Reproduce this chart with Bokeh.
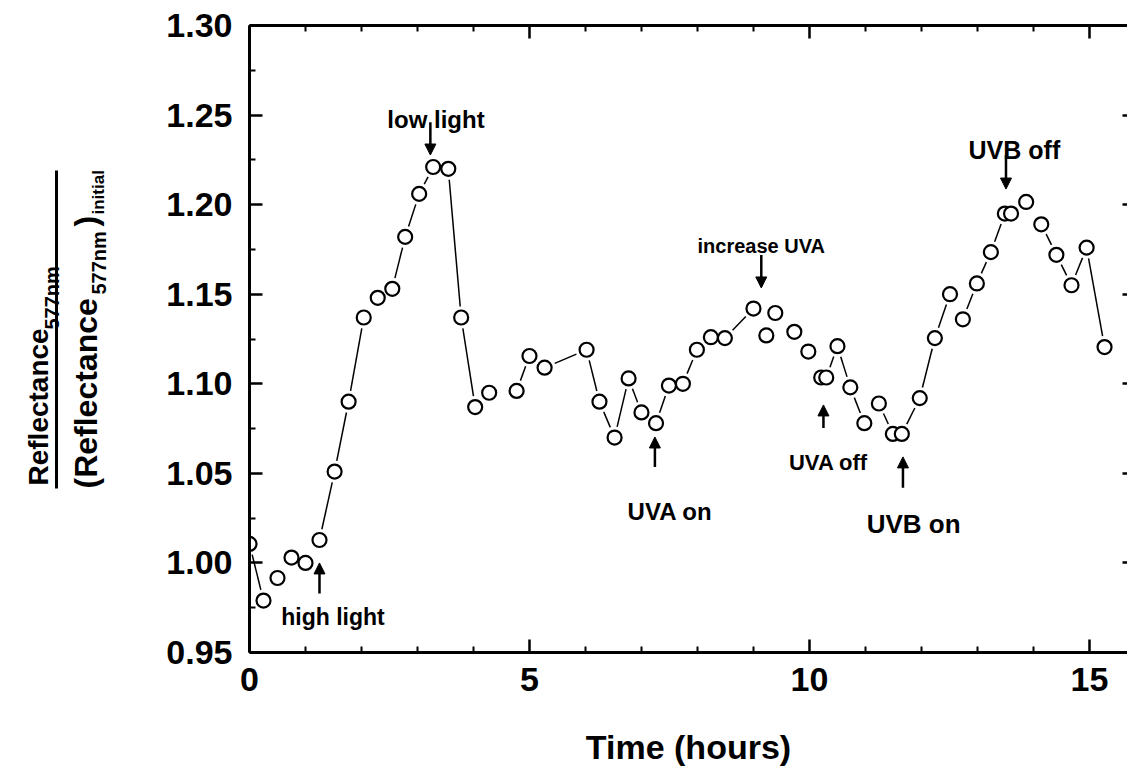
import math
from bokeh.plotting import figure
from bokeh.layouts import row
from bokeh.models import (Range1d, LinearAxis, FixedTicker, PrintfTickFormatter,
                          Label, Arrow, NormalHead, ColumnDataSource)
from bokeh.core.properties import value
from bokeh.embed import file_html
from bokeh.resources import INLINE

# ---------------- data ----------------
time_hours = [0.0, 0.25, 0.5, 0.75, 1.0, 1.25, 1.52, 1.77, 2.04, 2.29,
              2.55, 2.78, 3.03, 3.28, 3.55, 3.78, 4.03, 4.28, 4.77, 5.0,
              5.27, 6.02, 6.25, 6.52, 6.77, 7.0, 7.26, 7.49, 7.74, 7.99,
              8.24, 8.49, 9.0, 9.23, 9.39, 9.73, 9.98, 10.21, 10.30, 10.5,
              10.73, 10.98, 11.24, 11.49, 11.65, 11.97, 12.24, 12.51, 12.74, 12.99,
              13.24, 13.49, 13.60, 13.87, 14.14, 14.41, 14.68, 14.95, 15.27]
reflectance_ratio = [1.0106, 0.979, 0.9916, 1.003, 1.000, 1.0128, 1.051, 1.090, 1.137, 1.148,
                     1.153, 1.182, 1.206, 1.221, 1.220, 1.137, 1.087, 1.095, 1.096, 1.1155,
                     1.109, 1.119, 1.090, 1.070, 1.103, 1.084, 1.078, 1.099, 1.100, 1.119,
                     1.126, 1.1255, 1.142, 1.127, 1.1395, 1.129, 1.118, 1.1035, 1.1035, 1.121,
                     1.098, 1.078, 1.089, 1.072, 1.072, 1.092, 1.1255, 1.150, 1.136, 1.156,
                     1.1735, 1.195, 1.195, 1.2015, 1.189, 1.172, 1.155, 1.176, 1.1205]

x_major_ticks = [0, 5, 10, 15]
x_minor_ticks = [1, 2, 3, 4, 6, 7, 8, 9, 11, 12, 13, 14]
y_major_ticks = [0.95, 1.00, 1.05, 1.10, 1.15, 1.20, 1.25, 1.30]
y_minor_ticks = [0.975, 1.025, 1.075, 1.125, 1.175, 1.225, 1.275]

x_title = "Time (hours)"

# event annotations
event_labels = ["high light", "low light", "UVA on", "increase UVA", "UVA off", "UVB on", "UVB off"]
event_times = [1.25, 3.23, 7.24, 9.14, 10.25, 11.67, 13.51]
arrow_tail = [0.983, 1.246, 1.0536, 1.1719, 1.0753, 1.0419, 1.2277]
arrow_head = [1.000, 1.2277, 1.0703, 1.1535, 1.0882, 1.0592, 1.2087]
label_x = [1.49, 3.33, 7.51, 9.14, 10.34, 11.86, 13.66]
label_y = [0.9699, 1.2478, 1.0285, 1.1769, 1.0558, 1.0218, 1.2305]
label_size = [23, 24, 24, 20, 22, 26, 25]

# y-axis title (a fraction) pieces
frac_text = ["Reflectance", "577nm", "(Reflectance", "577nm", ")", "initial"]

FONT = "Liberation Sans"
TOTAL_W, H = 1127, 770
LW = 110                       # width of the strip holding the y title
MW = TOTAL_W - LW
BL, BR, BT = 249 - LW, 0, 25
BB = H - 652
X0, X1 = 0.0, 15.68
Y0, Y1 = 0.95, 1.30

# ---------------- left strip with the fraction title ----------------
# its frame spans the same rows as the main frame; coordinates are strip pixels
left = figure(width=LW, height=H, x_range=Range1d(0, LW), y_range=Range1d(H - 652, H - 25),
              output_backend="svg", toolbar_location=None,
              min_border_left=0, min_border_right=0, min_border_top=BT, min_border_bottom=BB,
              x_axis_location=None, y_axis_location=None)
left.outline_line_color = None
left.background_fill_color = "white"
left.border_fill_color = "white"
for g in left.grid:
    g.visible = False

frac_bx = [38, 51, 85, 98, 85, 98]
frac_sy = [485, 329, 488, 294, 226, 214]
frac_fs = ["28px", "20px", "32px", "20px", "32px", "17px"]
src = ColumnDataSource(dict(x=frac_bx, y=[H - v for v in frac_sy], text=frac_text, fs=frac_fs))
left.text(x="x", y="y", text="text", source=src, angle=math.pi / 2,
          text_align="left", text_baseline="alphabetic",
          text_font=value(FONT), text_font_style="bold", text_font_size="fs",
          text_color="black")
left.segment(x0=[56], y0=[H - 488], x1=[56], y1=[H - 170], line_color="black", line_width=3)

# ---------------- main plot ----------------
p = figure(width=MW, height=H, x_range=Range1d(X0, X1), y_range=Range1d(Y0, Y1),
           output_backend="svg", toolbar_location=None,
           min_border_left=BL, min_border_right=BR, min_border_top=BT, min_border_bottom=BB)
p.grid.visible = False
p.outline_line_color = None
p.background_fill_color = "white"
p.border_fill_color = "white"


def style_axis(ax, labels=True, line=True, major_in=13, minor_in=6):
    ax.axis_line_width = 3
    ax.axis_line_color = "black" if line else None
    ax.major_tick_in = major_in
    ax.major_tick_out = 0
    ax.minor_tick_in = minor_in
    ax.minor_tick_out = 0
    ax.major_tick_line_width = 2.5
    ax.minor_tick_line_width = 2
    ax.major_tick_line_color = "black"
    ax.minor_tick_line_color = "black"
    ax.major_label_text_font = FONT
    ax.major_label_text_font_style = "bold"
    if labels:
        ax.major_label_text_font_size = "34px"
        ax.major_label_text_color = "black"
    else:
        ax.major_label_text_font_size = "1px"
        ax.major_label_text_color = None
        ax.major_label_standoff = 0


xa = p.xaxis[0]
xa.ticker = FixedTicker(ticks=x_major_ticks, minor_ticks=x_minor_ticks)
xa.formatter = PrintfTickFormatter(format="%d")
style_axis(xa)
xa.major_label_standoff = 15
xa.axis_label = x_title
xa.axis_label_text_font = FONT
xa.axis_label_text_font_style = "bold"
xa.axis_label_text_font_size = "34px"
xa.axis_label_text_color = "black"
xa.axis_label_standoff = 34

ya = p.yaxis[0]
ya.ticker = FixedTicker(ticks=y_major_ticks, minor_ticks=y_minor_ticks)
ya.formatter = PrintfTickFormatter(format="%.2f")
style_axis(ya)
ya.major_label_standoff = 17

top = LinearAxis(ticker=FixedTicker(ticks=x_major_ticks, minor_ticks=x_minor_ticks))
style_axis(top, labels=False)
p.add_layout(top, "above")

right = LinearAxis(ticker=FixedTicker(ticks=y_major_ticks, minor_ticks=y_minor_ticks))
style_axis(right, labels=False, line=False, major_in=5, minor_in=0)
p.add_layout(right, "right")

# ---------- connecting line segments with gaps around markers ----------
frame_w = MW - BL - BR - 3
frame_h = H - BT - BB
sx = frame_w / (X1 - X0)
sy = frame_h / (Y1 - Y0)
GAP = 11.0
MIN_D = 30.0
x0s, y0s, x1s, y1s = [], [], [], []
for i in range(len(time_hours) - 1):
    dx = (time_hours[i + 1] - time_hours[i]) * sx
    dy = (reflectance_ratio[i + 1] - reflectance_ratio[i]) * sy
    d = math.hypot(dx, dy)
    if d <= MIN_D:
        continue
    f = GAP / d
    x0s.append(time_hours[i] + (time_hours[i + 1] - time_hours[i]) * f)
    y0s.append(reflectance_ratio[i] + (reflectance_ratio[i + 1] - reflectance_ratio[i]) * f)
    x1s.append(time_hours[i + 1] - (time_hours[i + 1] - time_hours[i]) * f)
    y1s.append(reflectance_ratio[i + 1] - (reflectance_ratio[i + 1] - reflectance_ratio[i]) * f)

p.segment(x0=x0s, y0=y0s, x1=x1s, y1=y1s, line_color="black", line_width=1.5)
p.scatter(time_hours, reflectance_ratio, marker="circle", size=14,
          fill_color="white", line_color="black", line_width=2.2)

# ---------- event arrows and labels ----------
for name, t, a0, a1, lx, ly, fs in zip(event_labels, event_times, arrow_tail, arrow_head,
                                         label_x, label_y, label_size):
    p.add_layout(Arrow(end=NormalHead(size=11, fill_color="black", line_color="black", line_width=1),
                       x_start=t, y_start=a0, x_end=t, y_end=a1,
                       line_color="black", line_width=2.5))
    p.add_layout(Label(x=lx, y=ly, text=name, text_align="center", text_baseline="alphabetic",
                       text_font=FONT, text_font_style="bold", text_font_size=f"{fs}px",
                       text_color="black"))

layout = row(left, p)
open("out.html", "w").write(file_html(layout, INLINE))
